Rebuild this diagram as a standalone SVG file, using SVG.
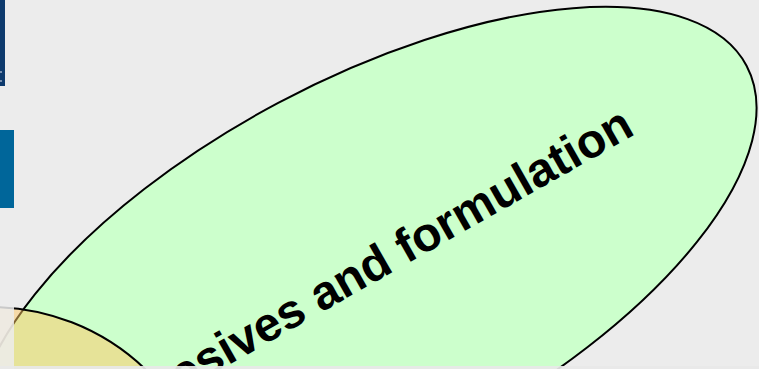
<svg xmlns="http://www.w3.org/2000/svg" width="759" height="369" viewBox="0 0 759 369">
<style>
.lbl{font-family:"Liberation Sans",Arial,sans-serif;font-weight:bold;font-size:48px;fill:#000}
.edge{stroke:#000;stroke-width:2}
</style>
<rect x="0" y="0" width="759" height="369" fill="#ececec"/>
<g id="node-formulation">
<ellipse cx="366" cy="268" rx="431" ry="187" transform="rotate(-28 366 268)" fill="#ccffcc" class="edge"/>
<text class="lbl" x="100.5" y="438" transform="rotate(-29.6 100.5 438)">Adhesives and formulation</text>
</g>
<g id="node-lower">
<ellipse cx="-10" cy="525" rx="222" ry="218" fill="#ffc864" fill-opacity="0.5" class="edge"/>
</g>
<g id="connectors"></g>
<rect x="0" y="0" width="14" height="369" fill="#ececec" opacity="0.85"/>
<g id="node-bar-top">
<rect x="0" y="0" width="5" height="86" fill="#0d3a6d"/>
<rect x="0" y="71" width="2" height="2" fill="#7890b0"/>
<rect x="0" y="80" width="2" height="2" fill="#7890b0"/>
</g>
<g id="node-bar-mid">
<rect x="0" y="130" width="14" height="78" fill="#00669a"/>
</g>
<rect x="0" y="366" width="759" height="3" fill="#e8e8e8" opacity="0.92"/>
</svg>
